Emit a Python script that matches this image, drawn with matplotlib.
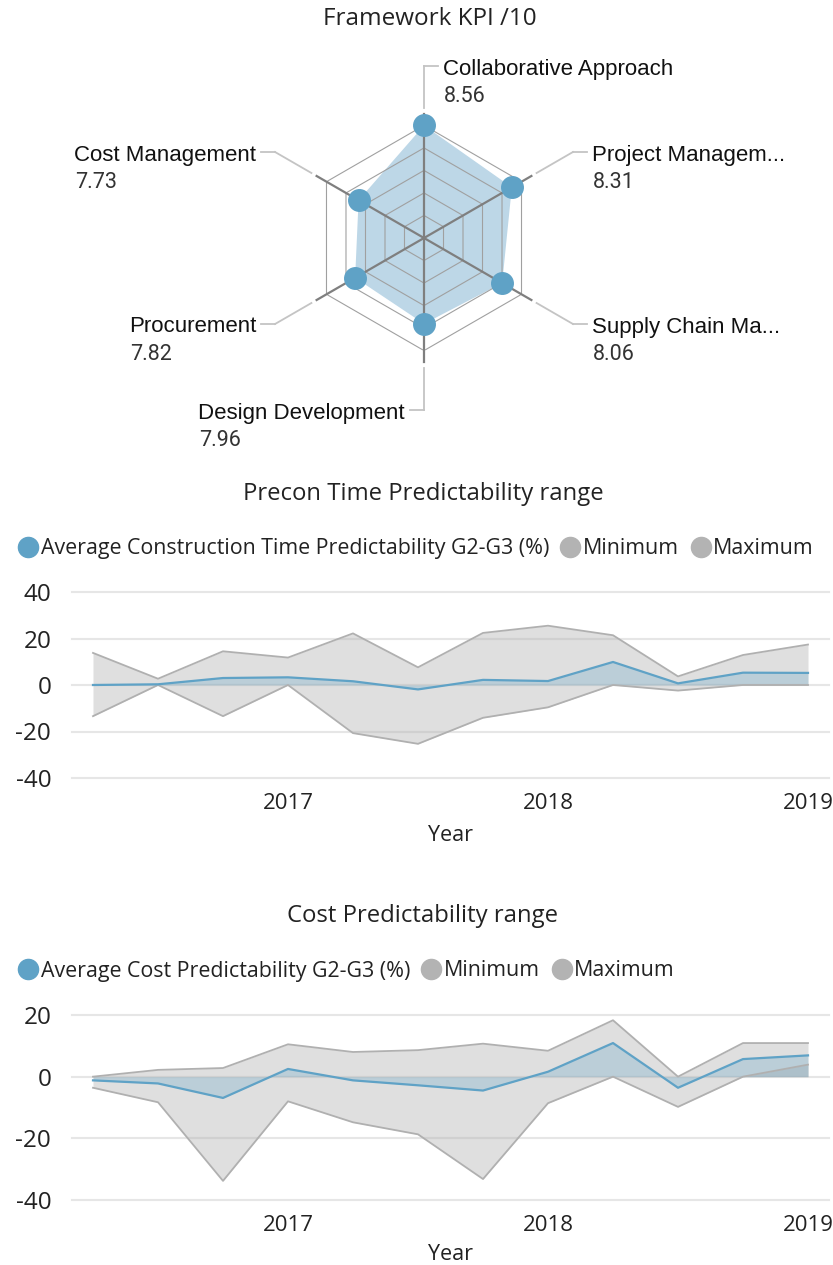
import numpy as np
import matplotlib
matplotlib.use("Agg")
import matplotlib.pyplot as plt
from matplotlib.lines import Line2D
from matplotlib.transforms import IdentityTransform

# ---------------- data ----------------
kpi_categories = ["Collaborative Approach", "Project Managem...", "Supply Chain Ma...",
                  "Design Development", "Procurement", "Cost Management"]
kpi_values = [8.56, 8.31, 8.06, 7.96, 7.82, 7.73]
kpi_value_labels = ["8.56", "8.31", "8.06", "7.96", "7.82", "7.73"]

quarters = [2016.25, 2016.5, 2016.75, 2017.0, 2017.25, 2017.5,
            2017.75, 2018.0, 2018.25, 2018.5, 2018.75, 2019.0]

time_avg = [0.0, 0.3, 3.0, 3.3, 1.6, -1.9, 2.2, 1.7, 9.9, 0.7, 5.3, 5.2]
time_min = [-13.4, 0.0, -13.4, 0.0, -20.7, -25.3, -14.1, -9.6, 0.0, -2.4, 0.0, 0.0]
time_max = [13.8, 2.7, 14.5, 11.8, 22.2, 7.6, 22.4, 25.5, 21.4, 3.7, 12.9, 17.4]

cost_avg = [-1.2, -2.2, -6.9, 2.5, -1.2, -2.8, -4.5, 1.6, 10.9, -3.6, 5.7, 6.9]
cost_min = [-3.6, -8.3, -33.8, -8.0, -14.8, -18.7, -33.2, -8.6, 0.0, -9.8, 0.0, 3.9]
cost_max = [0.0, 2.2, 2.8, 10.5, 8.0, 8.6, 10.7, 8.4, 18.3, 0.0, 10.9, 10.9]

year_ticks = [2017, 2018, 2019]
time_yticks = [-40, -20, 0, 20, 40]
cost_yticks = [-40, -20, 0, 20]

# ---------------- style ----------------
W, H, DPI = 833, 1265, 100
BLUE = "#5FA2C6"
BLUE_FILL = "#BDD7E7"
GREY = "#B3B3B3"
TXT = "#222222"
UI_FONT = ["Open Sans", "DejaVu Sans"]
LBL_FONT = ["Liberation Sans", "DejaVu Sans"]
VAL_FONT = ["Liberation Sans Narrow", "Roboto", "DejaVu Sans"]

plt.rcParams["font.family"] = UI_FONT

fig = plt.figure(figsize=(W / DPI, H / DPI), dpi=DPI)
fig.patch.set_facecolor("white")


def fx(px):
    return px / W


def fy(py):
    return 1 - py / H


# ---------------- radar ----------------
fig.text(fx(430), fy(19), "Framework KPI /10", ha="center", va="center",
         fontsize=17.5, color=TXT, family=UI_FONT)

CX, CY, R = 424, 238, 112.6
r0, rmax = 6.04, 8.56
axr = fig.add_axes([fx(CX - R), fy(CY + R), 2 * R / W, 2 * R / H], projection="polar")
axr.set_theta_zero_location("N")
axr.set_theta_direction(-1)
axr.set_ylim(r0, rmax)
axr.grid(False)
axr.set_xticks([])
axr.set_yticks([])
axr.spines["polar"].set_visible(False)
axr.patch.set_alpha(0)


def rpix(p):
    return r0 + p / R * (rmax - r0)


angles = np.deg2rad(np.arange(len(kpi_categories)) * 360.0 / len(kpi_categories))
ang_closed = np.append(angles, angles[0])
val_closed = np.append(kpi_values, kpi_values[0])

axr.fill(ang_closed, val_closed, color=BLUE_FILL, lw=0, zorder=2)
for k in range(1, 6):
    rk = r0 + k / 5 * (rmax - r0)
    axr.plot(ang_closed, [rk] * len(ang_closed), color="#A0A0A0", lw=0.8, zorder=3)
for th in angles:
    axr.plot([th, th], [r0, rpix(124)], color="#7F7F7F", lw=1.6, zorder=4, clip_on=False)
    axr.plot([th, th], [rpix(130), rpix(172)], color="#C4C4C4", lw=1.3, zorder=4, clip_on=False)
axr.plot(angles, kpi_values, "o", linestyle="none", ms=15.5, color=BLUE, zorder=5, clip_on=False)

for th, lab, vlab in zip(angles, kpi_categories, kpi_value_labels):
    ex, ey = axr.transData.transform((th, rpix(172)))
    side = 1 if np.rad2deg(th) < 179 else -1
    fig.add_artist(Line2D([ex, ex + side * 14], [ey, ey], transform=IdentityTransform(),
                          color="#C4C4C4", lw=1.3))
    t = fig.text(ex + side * 19, ey - 3, lab, transform=IdentityTransform(),
                 ha="left" if side > 0 else "right", va="center",
                 fontsize=16, color="#111111", family=LBL_FONT)
    axr.annotate(vlab, xy=(0, 0.5), xycoords=t, xytext=(1, -28), textcoords="offset pixels",
                 ha="left", va="center", fontsize=15.5, color="#333333", family=VAL_FONT,
                 annotation_clip=False)


# ---------------- area charts ----------------
def area_chart(top_px, bottom_px, avg, mn, mx, yticks, ylim, title, title_y, legend_label,
               legend_y, xlabel_pad):
    ax = fig.add_axes([fx(72), fy(bottom_px), (829 - 72) / W, (bottom_px - top_px) / H])
    x = np.array(quarters)
    zero = np.zeros(len(x))
    ax.fill_between(x, mn, zero, color=GREY, alpha=0.42, lw=0, zorder=2)
    ax.fill_between(x, mx, zero, color=GREY, alpha=0.42, lw=0, zorder=2)
    ax.fill_between(x, avg, zero, color=BLUE, alpha=0.28, lw=0, zorder=3)
    ax.plot(x, mn, color="#B0B0B0", lw=1.3, zorder=4)
    ax.plot(x, mx, color="#B0B0B0", lw=1.3, zorder=4)
    ax.plot(x, avg, color=BLUE, lw=1.6, zorder=5)

    ax.set_xlim(2017 - 216 / 260, 2019 + 21 / 260)
    ax.set_ylim(*ylim)
    ax.set_yticks(yticks)
    ax.set_yticklabels([str(v) for v in yticks])
    ax.set_xticks(year_ticks)
    ax.set_xticklabels([str(v) for v in year_ticks])
    for s in ax.spines.values():
        s.set_visible(False)
    ax.yaxis.grid(True, color="#E6E6E6", lw=1.5)
    for gl in ax.get_ygridlines():
        gl.set_clip_on(False)
    ax.set_axisbelow(True)
    ax.tick_params(axis="y", length=0, labelsize=17.5, colors=TXT, pad=15)
    ax.tick_params(axis="x", length=0, labelsize=16, colors=TXT, pad=11)
    ax.set_xlabel("Year", fontsize=15.5, color=TXT, labelpad=xlabel_pad)
    ax.patch.set_alpha(0)

    fig.text(fx(423), fy(title_y), title, ha="center", va="center", fontsize=17.2, color=TXT)

    handles = [Line2D([], [], marker="o", linestyle="none", ms=14.5, color=c)
               for c in (BLUE, GREY, GREY)]
    ax.legend(handles, [legend_label, "Minimum", "Maximum"], loc="center left",
              bbox_to_anchor=(fx(17), fy(legend_y + 1)), bbox_transform=fig.transFigure,
              ncol=3, frameon=False, fontsize=15.4, handlelength=1.0, handletextpad=0.1,
              columnspacing=0.5, borderpad=0, borderaxespad=0, labelcolor=TXT)
    return ax


area_chart(592, 778, time_avg, time_min, time_max, time_yticks, (-40, 40),
           "Precon Time Predictability range", 494,
           "Average Construction Time Predictability G2-G3 (%)", 548, 7.5)
area_chart(1015, 1200, cost_avg, cost_min, cost_max, cost_yticks, (-40, 20),
           "Cost Predictability range", 916,
           "Average Cost Predictability G2-G3 (%)", 970, 5.5)

fig.savefig("out.png", dpi=DPI, facecolor="white")
